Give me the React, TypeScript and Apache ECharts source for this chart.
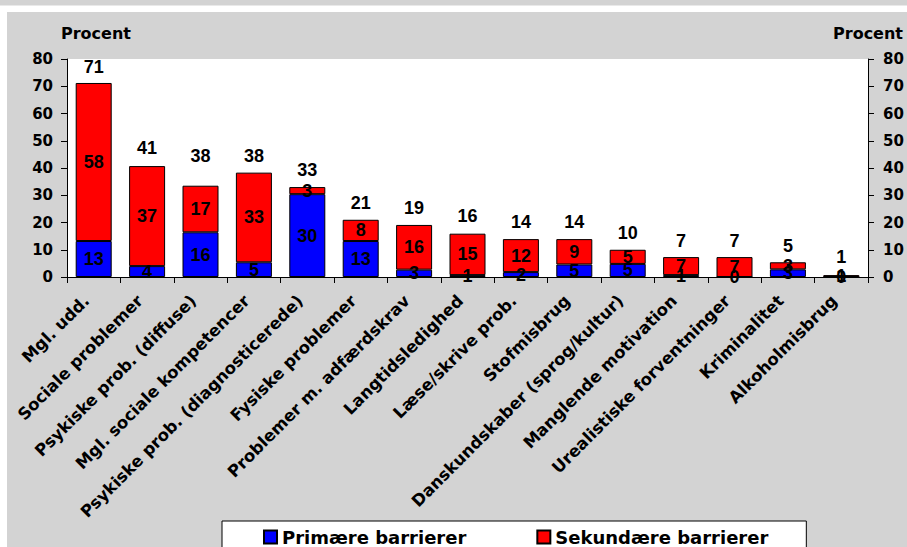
import React, { useEffect, useRef } from "react";
import * as echarts from "echarts";

const categories = [
  "Mgl. udd.",
  "Sociale problemer",
  "Psykiske prob. (diffuse)",
  "Mgl. sociale kompetencer",
  "Psykiske prob. (diagnosticerede)",
  "Fysiske problemer",
  "Problemer m. adfærdskrav",
  "Langtidsledighed",
  "Læse/skrive prob.",
  "Stofmisbrug",
  "Danskundskaber (sprog/kultur)",
  "Manglende motivation",
  "Urealistiske forventninger",
  "Kriminalitet",
  "Alkoholmisbrug",
];

const primaryValues = [13.2, 4.0, 16.4, 5.4, 30.4, 13.2, 2.7, 0.7, 1.8, 4.6, 4.8, 0.7, 0, 2.8, 0];
const secondaryValues = [58.0, 36.7, 17.1, 32.9, 2.6, 7.8, 16.4, 15.2, 12.1, 9.3, 5.2, 6.6, 7.3, 2.6, 0.7];
const totalLabels = [71, 41, 38, 38, 33, 21, 19, 16, 14, 14, 10, 7, 7, 5, 1];
const yTicks = [0, 80, 10];

const seriesNames = ["Primære barrierer", "Sekundære barrierer"];
const axisTitle = "Procent";
const cutTitle = "barrieresituation:";

const AXIS_FONT = "'DejaVu Sans', 'Liberation Sans', Arial, sans-serif";
const LABEL_FONT = "'Liberation Sans', Arial, sans-serif";

export default function App() {
  const ref = useRef<HTMLDivElement>(null);

  useEffect(() => {
    if (!ref.current) return;
    const chart = echarts.init(ref.current, null, { renderer: "svg" });

    const dataLabel = {
      show: true,
      position: "inside",
      color: "#000",
      textBorderWidth: 0,
      fontFamily: LABEL_FONT,
      fontWeight: "bold",
      fontSize: 18,
      formatter: (p: any) => String(Math.round(p.value)),
    };

    const yAxisCommon = {
      type: "value",
      min: yTicks[0],
      max: yTicks[1],
      interval: yTicks[2],
      splitLine: { show: false },
      axisLine: { show: true, lineStyle: { color: "#000", width: 1 } },
      axisTick: { show: true, length: 6, lineStyle: { color: "#000" } },
    };
    const yLabel = {
      color: "#000",
      fontFamily: AXIS_FONT,
      fontWeight: "bold",
      fontSize: 15,
    };

    chart.setOption({
      animation: false,
      backgroundColor: "#d3d3d3",
      graphic: [
        { type: "rect", z: -10, shape: { x: 0, y: 5.5, width: 907, height: 6.5 }, style: { fill: "#fff" } },
        { type: "rect", z: -10, shape: { x: 0, y: 12, width: 7, height: 535 }, style: { fill: "#fff" } },
        {
          type: "text",
          x: 0,
          y: 3,
          style: {
            text: cutTitle,
            fill: "#000",
            font: "bold 20px 'Liberation Serif', 'Times New Roman', serif",
            verticalAlign: "bottom",
          },
        },
        {
          type: "text",
          x: 61,
          y: 33,
          style: {
            text: axisTitle,
            fill: "#000",
            font: `bold 16px ${AXIS_FONT}`,
            verticalAlign: "middle",
            align: "left",
          },
        },
        {
          type: "text",
          x: 903,
          y: 33,
          style: {
            text: axisTitle,
            fill: "#000",
            font: `bold 16px ${AXIS_FONT}`,
            verticalAlign: "middle",
            align: "right",
          },
        },
      ],
      grid: {
        left: 67,
        right: 39,
        top: 59,
        bottom: 270,
        show: true,
        backgroundColor: "#fff",
        borderWidth: 0,
        containLabel: false,
      },
      legend: {
        data: seriesNames,
        left: 222,
        top: 521,
        orient: "horizontal",
        icon: "rect",
        itemWidth: 13,
        itemHeight: 13,
        itemGap: 70,
        backgroundColor: "#fff",
        borderColor: "#000",
        borderWidth: 1,
        borderRadius: 0,
        padding: [7, 38, 12, 41],
        textStyle: {
          color: "#000",
          fontFamily: AXIS_FONT,
          fontWeight: "bold",
          fontSize: 18,
        },
      },
      xAxis: {
        type: "category",
        data: categories,
        axisLine: { show: true, lineStyle: { color: "#000", width: 1 } },
        axisTick: { show: true, length: 6, lineStyle: { color: "#000" } },
        axisLabel: {
          interval: 0,
          rotate: 45,
          color: "#000",
          fontFamily: AXIS_FONT,
          fontWeight: "bold",
          fontSize: 16.5,
          margin: 14,
          padding: [0, 10, 0, 0],
        },
      },
      yAxis: [
        { ...yAxisCommon, position: "left", axisLabel: { ...yLabel, margin: 14 } },
        { ...yAxisCommon, position: "right", axisLabel: { ...yLabel, margin: 15 } },
      ],
      series: [
        {
          name: seriesNames[0],
          type: "bar",
          stack: "total",
          barWidth: 36,
          data: primaryValues,
          itemStyle: { color: "#0000ff", borderColor: "#000", borderWidth: 1 },
          label: dataLabel,
        },
        {
          name: seriesNames[1],
          type: "bar",
          stack: "total",
          barWidth: 36,
          data: secondaryValues,
          itemStyle: { color: "#ff0000", borderColor: "#000", borderWidth: 1 },
          label: dataLabel,
        },
        {
          name: "Total",
          type: "scatter",
          symbolSize: 0,
          data: totalLabels,
          itemStyle: { color: "#000" },
          emphasis: { disabled: true },
          label: {
            show: true,
            position: "top",
            distance: 8,
            color: "#000",
            opacity: 1,
            textBorderWidth: 0,
            fontFamily: LABEL_FONT,
            fontWeight: "bold",
            fontSize: 18,
            formatter: (p: any) => String(p.value),
          },
        },
      ],
    });

    return () => chart.dispose();
  }, []);

  return (
    <div
      ref={ref}
      style={{ position: "absolute", left: 0, top: 0, width: 907, height: 547 }}
    />
  );
}
